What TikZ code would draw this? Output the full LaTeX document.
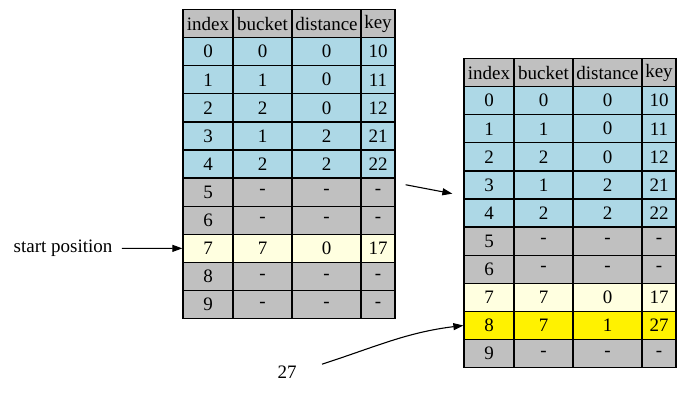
\documentclass[tikz,border=0pt]{standalone}
\usepackage{fontspec}
\setmainfont{Liberation Serif}
\usetikzlibrary{arrows.meta}
\definecolor{lightblue}{HTML}{ADD8E6}
\definecolor{slotgray}{HTML}{C0C0C0}
\definecolor{lightyellow}{HTML}{FFFFE0}
% one row of a table: name, slot, fill, index, bucket, distance, key
\newcommand{\slotrow}[7]{%
  \node[cell,fill=#3,minimum width=50pt] (#1i) at (25,#2*28.1+14.05) {#4};
  \node[cell,fill=#3,minimum width=59pt] (#1b) at (79.5,#2*28.1+14.05) {#5};
  \node[cell,fill=#3,minimum width=69pt] (#1d) at (143.5,#2*28.1+14.05) {#6};
  \node[cell,fill=#3,minimum width=34pt] (#1k) at (195,#2*28.1+14.05) {#7};
}
\begin{document}
\begin{tikzpicture}[x=1pt, y=-1pt, >={Triangle[length=10pt,width=7pt]},
  every node/.style={font=\fontsize{19}{22}\selectfont},
  cell/.style={draw,line width=1.3pt,minimum height=28.1pt,inner sep=0pt}]
  \useasboundingbox (0,0) rectangle (692,402);
  % table before insertion
  \begin{scope}[shift={(183,9.5)}]
    \slotrow{Lh}{0}{slotgray}{index}{bucket}{distance}{key}
    \slotrow{L0}{1}{lightblue}{0}{0}{0}{10}
    \slotrow{L1}{2}{lightblue}{1}{1}{0}{11}
    \slotrow{L2}{3}{lightblue}{2}{2}{0}{12}
    \slotrow{L3}{4}{lightblue}{3}{1}{2}{21}
    \slotrow{L4}{5}{lightblue}{4}{2}{2}{22}
    \slotrow{L5}{6}{slotgray}{5}{-}{-}{-}
    \slotrow{L6}{7}{slotgray}{6}{-}{-}{-}
    \slotrow{L7}{8}{lightyellow}{7}{7}{0}{17}
    \slotrow{L8}{9}{slotgray}{8}{-}{-}{-}
    \slotrow{L9}{10}{slotgray}{9}{-}{-}{-}
  \end{scope}
  % table after insertion
  \begin{scope}[shift={(464,58.5)}]
    \slotrow{Rh}{0}{slotgray}{index}{bucket}{distance}{key}
    \slotrow{R0}{1}{lightblue}{0}{0}{0}{10}
    \slotrow{R1}{2}{lightblue}{1}{1}{0}{11}
    \slotrow{R2}{3}{lightblue}{2}{2}{0}{12}
    \slotrow{R3}{4}{lightblue}{3}{1}{2}{21}
    \slotrow{R4}{5}{lightblue}{4}{2}{2}{22}
    \slotrow{R5}{6}{slotgray}{5}{-}{-}{-}
    \slotrow{R6}{7}{slotgray}{6}{-}{-}{-}
    \slotrow{R7}{8}{lightyellow}{7}{7}{0}{17}
    \slotrow{R8}{9}{yellow}{8}{7}{1}{27}
    \slotrow{R9}{10}{slotgray}{9}{-}{-}{-}
  \end{scope}
  \node (start) at (63,248.4) {start position};
  \node (num) at (287,372) {27};
  \draw[->,line width=1.1pt,shorten <=6pt] (start) -- (L7i);
  \draw[->,line width=1.1pt] ([xshift=10pt,yshift=-6pt]L4k.south east) -- ([xshift=-11pt,yshift=6pt]R3i.south west);
  \draw[->,line width=1.1pt] ([xshift=22pt,yshift=-2pt]num.north east) to[out=18,in=187] (R8i.west);
\end{tikzpicture}
\end{document}
